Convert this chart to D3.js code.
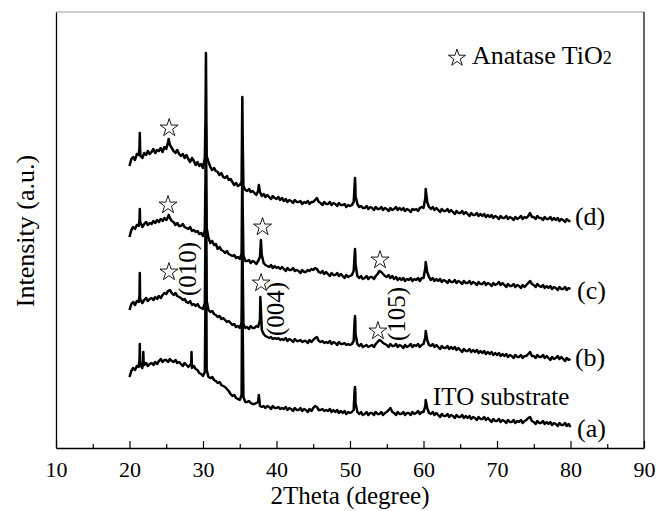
<!DOCTYPE html>
<html><head><meta charset="utf-8">
<script src="https://cdn.jsdelivr.net/npm/d3@7/dist/d3.min.js"></script>
<style>
body{margin:0;background:#fff}
text{font-family:"Liberation Serif","Times New Roman",serif;fill:#000}
</style>
</head><body>
<svg id="chart" width="658" height="511"></svg>
<script>
// ---- data: 2θ grid 20..80 step 0.25 (4 values per degree), intensity a.u. incl. vertical offset ----
const thetaStart = 20, thetaStep = 0.25;
const curveA = [
 71,77,80,78, 82,81,83,80, 83,85,82,84, 85,83,86,84, 87,89,86,88,
 88,86,89,87, 86,88,85,86, 84,82,85,83, 81,83,80,82, 79,78,75,74,
 72,76,78,71, 70,71,68,67, 65,66,63,62, 61,59,57,54, 52,53,50,49,
 48,53,51,46, 46,47,45,44, 44,45,46,42, 41,42,40,42, 41,39,42,40,
 40,41,39,40, 39,41,38,40, 39,37,40,38, 38,40,37,39, 38,36,39,37,
 40,42,41,38, 38,39,37,38, 37,39,36,38, 36,38,35,37, 35,37,34,36,
 35,36,38,45, 36,34,36,33, 34,36,33,35, 35,33,36,34, 34,36,33,35,
 36,38,40,36, 35,33,36,34, 34,36,33,35, 35,33,36,34, 35,37,34,36,
 36,42,40,35, 34,36,33,35, 33,31,34,32, 32,34,31,33, 32,30,33,31,
 31,33,30,32, 30,32,29,31, 30,28,31,29, 29,31,28,30, 28,26,29,27,
 27,29,26,28, 27,25,28,26, 26,28,25,27, 26,28,25,27, 28,30,31,27,
 26,24,27,25, 25,27,24,26, 24,26,23,25, 24,22,25,23, 23,25,22,24, 21];
const curveB = [
 138,144,146,143, 147,146,148,145, 148,150,147,149, 150,148,151,149, 152,150,153,155,
 154,157,158,155, 153,155,152,151, 150,148,149,146, 145,147,143,144, 142,144,141,140,
 139,145,147,138, 136,137,134,133, 131,132,129,130, 128,126,127,125, 123,124,121,122,
 120,125,124,120, 121,119,122,120, 120,122,121,128, 118,114,112,111, 110,111,109,110,
 109,110,108,109, 108,110,107,109, 108,106,109,107, 107,108,106,107, 107,105,108,106,
 108,110,111,107, 106,107,105,106, 105,107,104,106, 105,103,106,104, 104,105,103,104,
 103,104,107,114, 104,102,104,101, 102,103,101,102, 103,101,104,106, 108,107,105,104,
 103,101,104,102, 102,104,101,103, 102,100,103,101, 102,104,101,103, 102,104,101,103,
 104,111,108,103, 102,104,101,103, 101,99,102,100, 100,102,99,101, 99,101,98,100,
 98,96,99,97, 97,99,96,98, 96,98,95,97, 95,97,94,96, 94,96,93,95,
 93,95,92,94, 92,94,91,93, 92,90,93,91, 91,93,90,92, 92,94,96,92,
 92,90,93,91, 91,93,90,92, 90,88,91,89, 90,92,89,91, 89,87,90,88, 89];
const curveC = [
 211,218,221,219, 223,222,225,221, 224,226,223,225, 224,227,225,228, 226,229,227,230,
 228,231,230,227, 226,223,225,222, 222,224,221,220, 219,221,217,218, 216,217,214,215,
 212,218,220,210, 205,207,203,204, 199,201,198,197, 195,197,194,193, 192,193,190,191,
 189,194,193,187, 187,188,185,187, 186,184,187,191, 193,185,183,182, 181,183,180,182,
 180,181,179,181, 179,177,180,178, 178,180,177,178, 177,175,178,176, 176,178,177,179,
 178,180,179,176, 175,177,174,176, 174,172,175,173, 173,175,172,174, 172,170,173,171,
 172,173,177,184, 172,170,172,169, 170,172,169,171, 171,169,172,174, 177,176,174,172,
 171,173,170,172, 169,171,168,170, 168,170,167,169, 168,170,167,169, 168,170,167,170,
 170,180,176,171, 168,170,167,169, 167,169,166,168, 167,165,168,166, 166,168,165,167,
 166,164,167,165, 165,167,164,166, 165,163,166,164, 164,166,163,165, 164,162,165,163,
 164,166,163,165, 163,161,164,162, 162,164,161,163, 162,160,163,161, 163,165,167,164,
 163,161,164,162, 161,163,160,162, 160,162,159,161, 160,158,161,159, 159,161,158,160, 159];
const curveD = [
 282,289,291,288, 294,293,292,290, 295,293,297,294, 296,299,295,298, 297,300,296,301,
 299,306,303,300, 297,295,298,294, 292,294,290,293, 289,286,290,287, 283,286,282,284,
 280,290,292,286, 281,278,280,277, 276,273,275,271, 270,272,268,269, 266,263,265,262,
 263,266,262,258, 257,259,256,257, 255,253,257,256, 252,254,251,253, 251,249,252,250,
 249,251,248,250, 247,249,246,248, 247,245,248,246, 246,247,244,246, 245,247,244,246,
 246,248,250,246, 245,243,246,244, 244,246,243,245, 244,242,245,243, 243,244,241,243,
 242,243,246,252, 244,241,242,240, 240,242,239,241, 240,238,241,239, 239,241,238,240,
 239,237,240,238, 239,241,238,240, 238,240,237,239, 238,236,239,238, 239,237,240,241,
 240,250,246,241, 239,241,238,240, 238,236,239,237, 237,239,236,238, 236,234,237,235,
 235,237,234,236, 234,232,235,233, 233,235,232,234, 232,234,231,233, 231,233,230,232,
 231,229,232,230, 230,232,229,231, 230,228,231,229, 230,232,229,231, 230,232,235,231,
 231,229,232,230, 230,228,231,229, 229,231,228,230, 228,230,227,229, 228,226,229,227, 227];

// sharp reflections [2θ, intensity]
const peaksA = [[21.36,88],[21.4,104],[21.44,86],[21.84,88],[21.88,96],[21.92,86],[28.4,85],[28.44,96],[28.48,84],
  [30.34,150],[30.4,193],[30.46,150],[35.3,120],[35.35,148],[35.4,120],[37.6,53],
  [50.62,57],[50.68,61],[50.73,55],[60.3,48]];
const peaksB = [[21.36,152],[21.4,175],[21.44,150],[30.34,220],[30.4,258],[30.46,220],
  [35.3,180],[35.35,208],[35.4,180],[37.8,151],[50.62,126],[50.68,132],[50.73,126],[60.3,117]];
const peaksC = [[21.36,228],[21.4,239],[21.44,227],[25.33,233],[30.34,270],[30.4,323],[30.46,270],
  [35.3,240],[35.35,278],[35.4,240],[37.88,208],[50.62,192],[50.68,199],[50.73,192],[60.3,186]];
const peaksD = [[21.36,300],[21.4,315],[21.44,300],[25.33,309],[30.34,330],[30.4,395],[30.46,330],
  [35.3,310],[35.35,351],[35.4,310],[37.6,263],[50.62,262],[50.68,270],[50.73,262],[60.3,259]];

const curveNames = ["(a)","(b)","(c)","(d)"];
const curveLabelPos = [[80.9,11],[80.6,82],[80.9,149],[80.6,223]];
const xMajorTicks = [10,20,30,40,50,60,70,80,90];
const xMinorTicks = [15,25,35,45,55,65,75,85];
// anatase star markers [2θ, intensity]
const starMarks = [[25.4,321],[25.24,244],[38.1,222],[54.08,189],[25.37,177],[37.9,166],[53.8,118]];
// Miller-index labels [text, 2θ, intensity]
const hklLabels = [["(010)",29.05,179],["(004)",41.02,139],["(105)",57.48,134]];
const substrateLabel = ["ITO substrate",61.3,43];
const legendText = "Anatase TiO";
const xTitle = "2Theta (degree)", yTitle = "Intensity (a.u.)";

// ---- drawing ----
const svg = d3.select("#chart");
const x = d3.scaleLinear().domain([10,90]).range([56,644]);
const y = d3.scaleLinear().domain([0,436]).range([448,12]);

function build(vals, peaks){
  const pts = vals.map((v,i)=>[thetaStart+i*thetaStep, v]).concat(peaks);
  pts.sort((a,b)=>a[0]-b[0]);
  return pts;
}
const series = [build(curveA,peaksA), build(curveB,peaksB), build(curveC,peaksC), build(curveD,peaksD)];
const line = d3.line().x(d=>x(d[0])).y(d=>y(d[1]));

// frame
svg.append("line").attr("x1",56).attr("x2",644).attr("y1",12).attr("y2",12).attr("stroke","#999").attr("stroke-width",1);
svg.append("line").attr("x1",644).attr("x2",644).attr("y1",12).attr("y2",448).attr("stroke","#000").attr("stroke-width",1.2);

series.forEach(s=>{
  svg.append("path").datum(s).attr("d",line).attr("fill","none")
    .attr("stroke","#000").attr("stroke-width",2.5).attr("stroke-linejoin","round");
});

// axes
const gx = svg.append("g").attr("transform","translate(0,448)");
gx.call(d3.axisBottom(x).tickValues(xMajorTicks).tickSize(-7).tickSizeOuter(0).tickFormat(d3.format("d")));
gx.select(".domain").attr("stroke-width",1.3);
gx.selectAll(".tick line").attr("stroke-width",1.2);
gx.selectAll("text").attr("y",29).attr("dy",null).attr("font-size",22)
  .style("font-family",'"Liberation Serif","Times New Roman",serif');
const gm = svg.append("g").attr("transform","translate(0,448)");
gm.call(d3.axisBottom(x).tickValues(xMinorTicks).tickSize(-4).tickFormat(""));
gm.select(".domain").remove();
gm.selectAll(".tick line").attr("stroke-width",1.2);
const gy = svg.append("g").attr("transform","translate(56,0)");
gy.call(d3.axisLeft(y).tickValues([]).tickSizeOuter(0));
gy.select(".domain").attr("stroke-width",1.3);

// titles
svg.append("text").attr("x",350).attr("y",504).attr("text-anchor","middle").attr("font-size",25).text(xTitle);
svg.append("text").attr("transform","translate(34,231) rotate(-90)").attr("text-anchor","middle").attr("font-size",26).text(yTitle);

// star markers
const star = d3.symbol().type(d3.symbolStar).size(100);
svg.selectAll(".star").data(starMarks).join("path").attr("class","star")
  .attr("transform",d=>`translate(${x(d[0])},${y(d[1])+1})`)
  .attr("d",star).attr("fill","#fff").attr("stroke","#000").attr("stroke-width",0.9);

// hkl labels
svg.selectAll(".hkl").data(hklLabels).join("text").attr("class","hkl")
  .attr("transform",d=>`translate(${x(d[1])},${y(d[2])}) rotate(-90)`)
  .attr("text-anchor","middle").attr("font-size",25).text(d=>d[0]);

// curve labels
svg.selectAll(".clab").data(curveNames).join("text").attr("class","clab")
  .attr("x",(d,i)=>x(curveLabelPos[i][0])).attr("y",(d,i)=>y(curveLabelPos[i][1]))
  .attr("font-size",26).text(d=>d);
svg.append("text").attr("x",x(substrateLabel[1])).attr("y",y(substrateLabel[2]))
  .attr("font-size",25).text(substrateLabel[0]);

// legend
svg.append("path").attr("transform","translate(457,58)").attr("d",d3.symbol().type(d3.symbolStar).size(90))
  .attr("fill","#fff").attr("stroke","#000").attr("stroke-width",0.9);
const lt = svg.append("text").attr("x",472).attr("y",64).attr("font-size",26);
lt.append("tspan").text(legendText);
lt.append("tspan").attr("font-size",18).text("2");
</script>
</body></html>
